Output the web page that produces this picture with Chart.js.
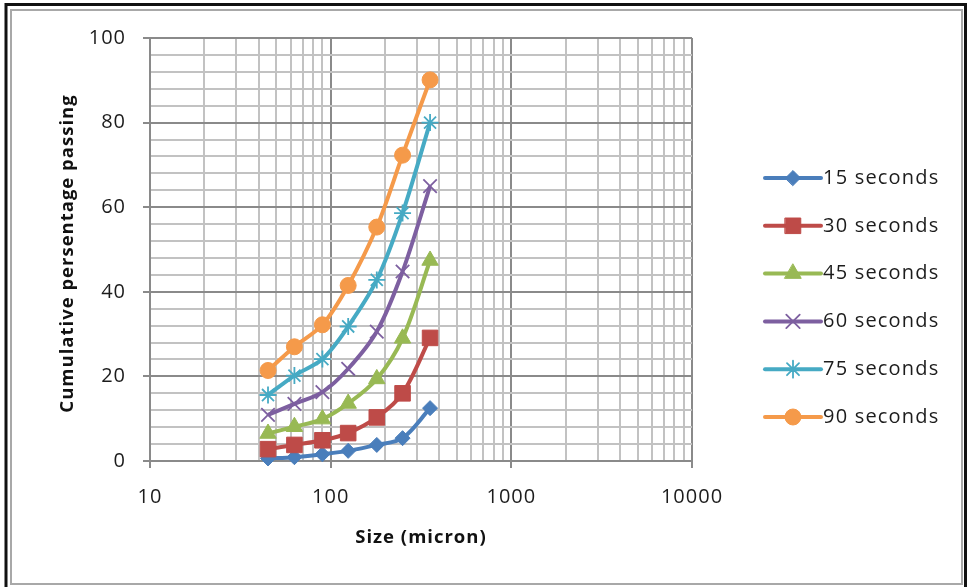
<!DOCTYPE html>
<html>
<head>
<meta charset="utf-8">
<script src="https://cdn.jsdelivr.net/npm/chart.js@4/dist/chart.umd.min.js"></script>
<style>
  html, body { margin: 0; padding: 0; background: #fff; overflow: hidden; }
  #wrap { position: relative; width: 967px; height: 587px; }
</style>
</head>
<body>
<div id="wrap"><canvas id="c" width="967" height="587"></canvas></div>
<script>
// Sieve sizes (micron) and cumulative % passing for each grinding time
const sizes = [45, 63, 90, 125, 180, 250, 355];
const sec15 = [0.6, 0.9, 1.6, 2.4, 3.8, 5.4, 12.5];
const sec30 = [2.8, 3.8, 4.9, 6.6, 10.3, 16.0, 29.1];
const sec45 = [6.5, 8.1, 9.9, 13.6, 19.4, 29.0, 47.4];
const sec60 = [10.9, 13.5, 16.3, 21.8, 30.6, 44.8, 65.0];
const sec75 = [15.6, 20.2, 24.1, 31.8, 42.8, 58.6, 80.0];
const sec90 = [21.4, 27.0, 32.2, 41.5, 55.3, 72.3, 90.1];

const seriesNames = ['15 seconds', '30 seconds', '45 seconds', '60 seconds', '75 seconds', '90 seconds'];
const seriesValues = [sec15, sec30, sec45, sec60, sec75, sec90];
const seriesColors = ['#4a7ebb', '#be4b48', '#98b954', '#7d5fa0', '#46aac4', '#f59a4a'];
const seriesMarkers = ['rectRot', 'rect', 'triangle', 'crossRot', 'star', 'circle'];
const markerRadius = [7.5, 11, 9.5, 9.5, 8.5, 8];

const xTickLabels = [10, 100, 1000, 10000];
const yTickLabels = [0, 20, 40, 60, 80, 100];

const xTitle = 'Size (micron)';
const yTitle = 'Cumulative persentage passing';

// log grid: 1..9 x each decade
const xGrid = [];
for (let d = 10; d < 10000; d *= 10) for (let k = 1; k <= 9; k++) xGrid.push(k * d);
xGrid.push(10000);

const isMajorX = v => xTickLabels.includes(Math.round(v));
const isMajorY = v => yTickLabels.includes(Math.round(v));

const GRID_MAJOR = '#8a8a8a';
const GRID_MINOR = '#c2c2c2';
const TEXT = '#1c1c1c';
const FONT = "'Open Sans', 'Noto Sans', sans-serif";

Chart.defaults.font.family = FONT;
Chart.defaults.color = TEXT;

const datasets = seriesNames.map((name, i) => ({
  label: name,
  data: sizes.map((s, j) => ({ x: s, y: seriesValues[i][j] })),
  borderColor: seriesColors[i],
  backgroundColor: seriesColors[i],
  pointBackgroundColor: seriesColors[i],
  pointBorderColor: seriesColors[i],
  borderWidth: 4,
  pointStyle: seriesMarkers[i],
  pointRadius: markerRadius[i],
  pointHoverRadius: markerRadius[i],
  pointBorderWidth: (seriesMarkers[i] === 'crossRot' || seriesMarkers[i] === 'star') ? 1.8 : 1,
  tension: 0.33,
  clip: false,
  order: seriesNames.length - i
}));

// white page with the double frame
const framePlugin = {
  id: 'frame',
  beforeDraw(chart) {
    const ctx = chart.ctx;
    ctx.save();
    ctx.fillStyle = '#fff';
    ctx.fillRect(0, 0, chart.width, chart.height);
    ctx.strokeStyle = '#111';
    ctx.lineWidth = 3;
    ctx.strokeRect(6, 4.5, 959.5, 590);
    ctx.strokeStyle = '#a8a8a8';
    ctx.lineWidth = 2;
    ctx.strokeRect(11, 10, 951, 574);
    ctx.restore();
    ctx.letterSpacing = '1px';
  }
};

// axis titles
const titlePlugin = {
  id: 'axisTitles',
  afterDraw(chart) {
    const ctx = chart.ctx;
    const a = chart.chartArea;
    ctx.save();
    ctx.letterSpacing = '1px';
    ctx.fillStyle = '#111';
    ctx.font = `bold 18.5px ${FONT}`;
    ctx.textAlign = 'center';
    ctx.textBaseline = 'middle';
    ctx.fillText(xTitle, (a.left + a.right) / 2, a.bottom + 77);
    ctx.translate(a.left - 82, (a.top + a.bottom) / 2 + 4);
    ctx.rotate(-Math.PI / 2);
    ctx.fillText(yTitle, 0, 0);
    ctx.restore();
  }
};

// legend: line segment with marker, then the series name
const legendPlugin = {
  id: 'sideLegend',
  afterDraw(chart) {
    const ctx = chart.ctx;
    const a = chart.chartArea;
    const x0 = a.right + 73, x1 = a.right + 129, top = 178, gap = 47.8;
    chart.data.datasets.forEach((ds, i) => {
      const y = top + i * gap;
      ctx.save();
      ctx.strokeStyle = ds.borderColor;
      ctx.fillStyle = ds.borderColor;
      ctx.lineWidth = ds.borderWidth;
      ctx.lineCap = 'round';
      ctx.beginPath();
      ctx.moveTo(x0, y);
      ctx.lineTo(x1, y);
      ctx.stroke();
      ctx.lineWidth = ds.pointBorderWidth;
      Chart.helpers.drawPoint(ctx, {
        pointStyle: ds.pointStyle, radius: ds.pointRadius,
        borderWidth: ds.pointBorderWidth, rotation: 0
      }, (x0 + x1) / 2, y);
      ctx.letterSpacing = '1.2px';
      ctx.fillStyle = TEXT;
      ctx.font = `20px ${FONT}`;
      ctx.textAlign = 'left';
      ctx.textBaseline = 'middle';
      ctx.fillText(ds.label, x1 + 2, y);
      ctx.restore();
    });
  }
};

new Chart(document.getElementById('c'), {
  type: 'line',
  data: { datasets },
  plugins: [framePlugin, titlePlugin, legendPlugin],
  options: {
    responsive: false,
    devicePixelRatio: 1,
    animation: false,
    events: [],
    layout: { padding: { left: 12, right: 275, top: 38, bottom: 6 } },
    plugins: { legend: { display: false }, tooltip: { enabled: false } },
    scales: {
      x: {
        type: 'logarithmic',
        min: 10,
        max: 10000,
        afterBuildTicks: s => { s.ticks = xGrid.map(v => ({ value: v })); },
        afterFit: s => { s.height = 120; },
        ticks: {
          autoSkip: false,
          maxRotation: 0,
          padding: 17,
          font: { size: 20 },
          color: TEXT,
          callback: v => (isMajorX(v) ? String(Math.round(v)) : '')
        },
        grid: {
          color: c => (isMajorX(c.tick.value) ? GRID_MAJOR : GRID_MINOR),
          lineWidth: 2,
          tickColor: c => (isMajorX(c.tick.value) ? GRID_MAJOR : 'rgba(0,0,0,0)'),
          tickLength: 7,
          drawTicks: true
        },
        border: { color: GRID_MAJOR, width: 2 }
      },
      y: {
        type: 'linear',
        min: 0,
        max: 100,
        afterFit: s => { s.width = 138; },
        ticks: {
          stepSize: 4,
          autoSkip: false,
          padding: 17,
          font: { size: 20 },
          color: TEXT,
          callback: v => (isMajorY(v) ? String(v) : '')
        },
        grid: {
          color: c => (isMajorY(c.tick.value) ? GRID_MAJOR : GRID_MINOR),
          lineWidth: 2,
          tickColor: c => (isMajorY(c.tick.value) ? GRID_MAJOR : 'rgba(0,0,0,0)'),
          tickLength: 7,
          drawTicks: true
        },
        border: { color: GRID_MAJOR, width: 2 }
      }
    }
  }
});
</script>
</body>
</html>
